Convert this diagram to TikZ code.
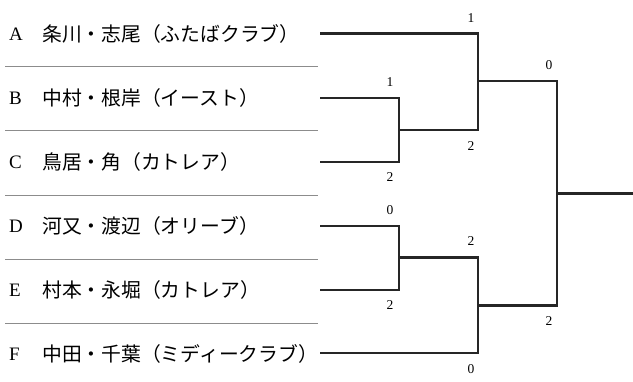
\documentclass[tikz,border=0pt]{standalone}
\usepackage{fontspec}
\setmainfont{Liberation Serif}
\newfontfamily\jp{Noto Sans CJK JP}
\begin{document}
\begin{tikzpicture}[x=1pt,y=-1pt,
  br/.style={draw=black!85, line width=2.2pt},
  sep/.style={draw=black!45, line width=0.8pt},
  letter/.style={anchor=west, inner sep=0pt, font=\fontsize{19}{19}\selectfont},
  entry/.style={anchor=west, inner sep=0pt, font=\jp\fontsize{19.8}{19.8}\selectfont},
  score/.style={inner sep=0pt, font=\fontsize{13.5}{13.5}\selectfont}]
\useasboundingbox (0,0) rectangle (633,381);
% separators
\foreach \y/\n in {66.5/s1,130.5/s2,195/s3,259/s4,323/s5}{
  \coordinate (\n l) at (5,\y); \coordinate (\n r) at (318,\y);
  \draw[sep] (\n l) -- (\n r);}
% entries
\node[letter] (LA) at (9,34) {A}; \node[entry] (NA) at (42,34) {条川・志尾（ふたばクラブ）};
\node[letter] (LB) at (9,98) {B}; \node[entry] (NB) at (42,98) {中村・根岸（イースト）};
\node[letter] (LC) at (9,162) {C}; \node[entry] (NC) at (42,162) {鳥居・角（カトレア）};
\node[letter] (LD) at (9,226) {D}; \node[entry] (ND) at (42,226) {河又・渡辺（オリーブ）};
\node[letter] (LE) at (9,290) {E}; \node[entry] (NE) at (42,290) {村本・永堀（カトレア）};
\node[letter] (LF) at (9,354) {F}; \node[entry] (NF) at (42,354) {中田・千葉（ミディークラブ）};
% bracket coordinates
\coordinate (a0) at (320,33.5); \coordinate (a1) at (478,33.5);
\coordinate (b0) at (320,98);   \coordinate (b1) at (399,98);
\coordinate (c0) at (320,162);  \coordinate (c1) at (399,162);
\coordinate (bc) at (399,130);  \coordinate (bc2) at (478,130);
\coordinate (abc) at (478,81);  \coordinate (abc2) at (557,81);
\coordinate (d0) at (320,226);  \coordinate (d1) at (399,226);
\coordinate (e0) at (320,290);  \coordinate (e1) at (399,290);
\coordinate (de) at (399,257.5);\coordinate (de2) at (478,257.5);
\coordinate (f0) at (320,353);  \coordinate (f1) at (478,353);
\coordinate (def) at (478,305.5);\coordinate (def2) at (557,305.5);
\coordinate (fin) at (557,193.5);\coordinate (win) at (633,193.5);
% brackets
\draw[br] (a0) -- (a1) -- (bc2) -- (bc) ;
\draw[br] (b0) -- (b1) -- (c1) -- (c0);
\draw[br] (abc) -- (abc2) -- (def2) -- (def);
\draw[br] (d0) -- (d1) -- (e1) -- (e0);
\draw[br] (de) -- (de2) -- (f1) -- (f0);
\draw[br] (fin) -- (win);
% scores
\node[score] (sA) at (471,18) {1};
\node[score] (sBC) at (471,146) {2};
\node[score] (sB) at (390,82) {1};
\node[score] (sC) at (390,177) {2};
\node[score] (sABC) at (549,65) {0};
\node[score] (sD) at (390,210) {0};
\node[score] (sE) at (390,305) {2};
\node[score] (sDE) at (471,241) {2};
\node[score] (sF) at (471,369) {0};
\node[score] (sDEF) at (549,321) {2};
\end{tikzpicture}
\end{document}
